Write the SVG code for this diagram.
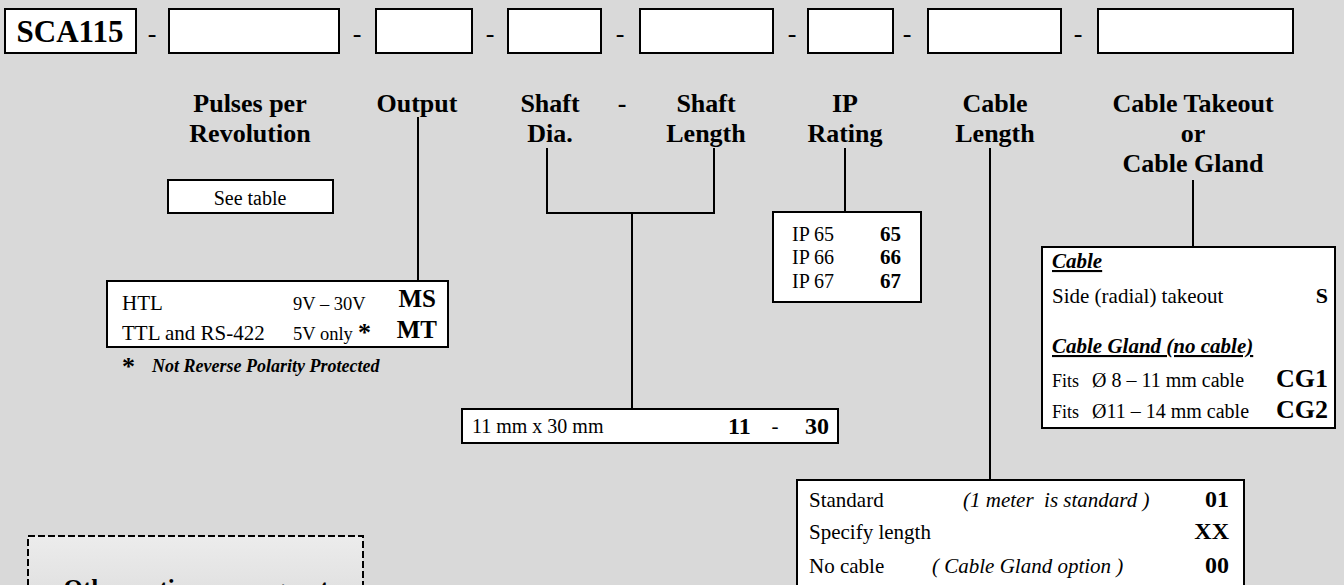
<svg xmlns="http://www.w3.org/2000/svg" width="1344" height="585" viewBox="0 0 1344 585">
<defs>
<linearGradient id="dg" x1="0" y1="0" x2="0" y2="1">
<stop offset="0" stop-color="#ececec"/>
<stop offset="1" stop-color="#dcdcdc"/>
</linearGradient>
</defs>
<style>
text{font-family:"Liberation Serif","Times New Roman",serif;fill:#000}
.box{fill:#fff;stroke:#000;stroke-width:2}
.lbl{font-size:26px;font-weight:bold;text-anchor:middle}
.dash{font-size:26px;text-anchor:middle}
.t{font-size:21px}
.s{font-size:18.5px}
.b{font-weight:bold;font-size:24px}
.e{text-anchor:end}
.bi{font-weight:bold;font-style:italic}
.i{font-style:italic}
.u{text-decoration:underline}
.con line{stroke:#000;stroke-width:2;fill:none}
</style>
<rect x="0" y="0" width="1344" height="585" fill="#d9d9d9"/>

<g id="code-row">
<rect class="box" x="5" y="9" width="131" height="44"/>
<text x="70" y="42" style="font-size:31px;font-weight:bold" text-anchor="middle">SCA115</text>
<text class="dash" x="152" y="42">-</text>
<rect class="box" x="169" y="9" width="170" height="44"/>
<text class="dash" x="357" y="42">-</text>
<rect class="box" x="376" y="9" width="96" height="44"/>
<text class="dash" x="490" y="42">-</text>
<rect class="box" x="508" y="9" width="93" height="44"/>
<text class="dash" x="620" y="42">-</text>
<rect class="box" x="640" y="9" width="133" height="44"/>
<text class="dash" x="792" y="42">-</text>
<rect class="box" x="808" y="9" width="85" height="44"/>
<text class="dash" x="907" y="42">-</text>
<rect class="box" x="928" y="9" width="133" height="44"/>
<text class="dash" x="1078" y="42">-</text>
<rect class="box" x="1098" y="9" width="195" height="44"/>
</g>

<g id="labels">
<text class="lbl" x="250" y="112">Pulses per</text>
<text class="lbl" x="250" y="142">Revolution</text>
<text class="lbl" x="417" y="112">Output</text>
<text class="lbl" x="550" y="112">Shaft</text>
<text class="lbl" x="550" y="142">Dia.</text>
<text class="lbl" x="622" y="112">-</text>
<text class="lbl" x="706" y="112">Shaft</text>
<text class="lbl" x="706" y="142">Length</text>
<text class="lbl" x="845" y="112">IP</text>
<text class="lbl" x="845" y="142">Rating</text>
<text class="lbl" x="995" y="112">Cable</text>
<text class="lbl" x="995" y="142">Length</text>
<text class="lbl" x="1193" y="112">Cable Takeout</text>
<text class="lbl" x="1193" y="142">or</text>
<text class="lbl" x="1193" y="172">Cable Gland</text>
</g>

<g id="connectors" class="con">
<line x1="418" y1="117" x2="418" y2="281"/>
<line x1="547" y1="148" x2="547" y2="213"/>
<line x1="714" y1="148" x2="714" y2="213"/>
<line x1="546" y1="213" x2="715" y2="213"/>
<line x1="632" y1="213" x2="632" y2="409"/>
<line x1="845" y1="148" x2="845" y2="212"/>
<line x1="990" y1="148" x2="990" y2="480"/>
<line x1="1193" y1="180" x2="1193" y2="247"/>
</g>

<g id="ppr">
<rect class="box" x="168" y="180" width="165" height="33"/>
<text x="250" y="205" text-anchor="middle" style="font-size:20px">See table</text>
</g>

<g id="output">
<rect class="box" x="107" y="281" width="341" height="66"/>
<text class="t" x="122" y="310">HTL</text>
<text class="s" x="293" y="310">9V – 30V</text>
<text class="b e" x="436" y="307" style="font-size:25px">MS</text>
<text class="t" x="122" y="340">TTL and RS-422</text>
<text class="s" x="293" y="340">5V only</text>
<text x="358" y="341" style="font-size:26px;font-weight:bold">*</text>
<text class="b e" x="437" y="338" style="font-size:25px">MT</text>
<text x="122" y="375" style="font-size:26px;font-weight:bold">*</text>
<text class="bi" x="152" y="372" style="font-size:18px">Not Reverse Polarity Protected</text>
</g>

<g id="shaft">
<rect class="box" x="462" y="409" width="376" height="34"/>
<text class="t" x="472" y="433" style="font-size:20px">11 mm x 30 mm</text>
<text class="b" x="728" y="434">11</text>
<text class="t" x="775" y="433" text-anchor="middle">-</text>
<text class="b" x="805" y="434">30</text>
</g>

<g id="ip">
<rect class="box" x="773" y="212" width="148" height="90"/>
<text x="792" y="241" style="font-size:20px">IP 65</text>
<text x="792" y="264" style="font-size:20px">IP 66</text>
<text x="792" y="288" style="font-size:20px">IP 67</text>
<text x="880" y="241" style="font-size:21px;font-weight:bold">65</text>
<text x="880" y="264" style="font-size:21px;font-weight:bold">66</text>
<text x="880" y="288" style="font-size:21px;font-weight:bold">67</text>
</g>

<g id="takeout">
<rect class="box" x="1042" y="247" width="293" height="181"/>
<text class="bi u" x="1052" y="268" style="font-size:21px">Cable</text>
<text class="t" x="1052" y="303">Side (radial) takeout</text>
<text class="b e" x="1328" y="303" style="font-size:22px">S</text>
<text class="bi u" x="1052" y="353" style="font-size:21px">Cable Gland (no cable)</text>
<text class="s" x="1052" y="387" style="font-size:18px">Fits</text>
<text class="t" x="1092" y="387" style="font-size:20px">Ø 8 – 11 mm cable</text>
<text class="b e" x="1328" y="387" style="font-size:26px">CG1</text>
<text class="s" x="1052" y="418" style="font-size:18px">Fits</text>
<text class="t" x="1092" y="418" style="font-size:20px">Ø11 – 14 mm cable</text>
<text class="b e" x="1328" y="418" style="font-size:26px">CG2</text>
</g>

<g id="cable-length">
<rect class="box" x="797" y="480" width="447" height="130"/>
<text class="t" x="809" y="507">Standard</text>
<text class="t i" x="963" y="507">(1 meter&#160; is standard )</text>
<text class="b e" x="1229" y="507">01</text>
<text class="t" x="809" y="539">Specify length</text>
<text class="b e" x="1229" y="539">XX</text>
<text class="t" x="809" y="573">No cable</text>
<text class="t i" x="932" y="573">( Cable Gland option )</text>
<text class="b e" x="1229" y="573">00</text>
</g>

<g id="other-options">
<rect x="28" y="536" width="335" height="80" fill="url(#dg)" stroke="#000" stroke-width="2" stroke-dasharray="7,3"/>
<text class="lbl" x="196" y="597" style="font-size:25px">Other options on request</text>
</g>
</svg>
